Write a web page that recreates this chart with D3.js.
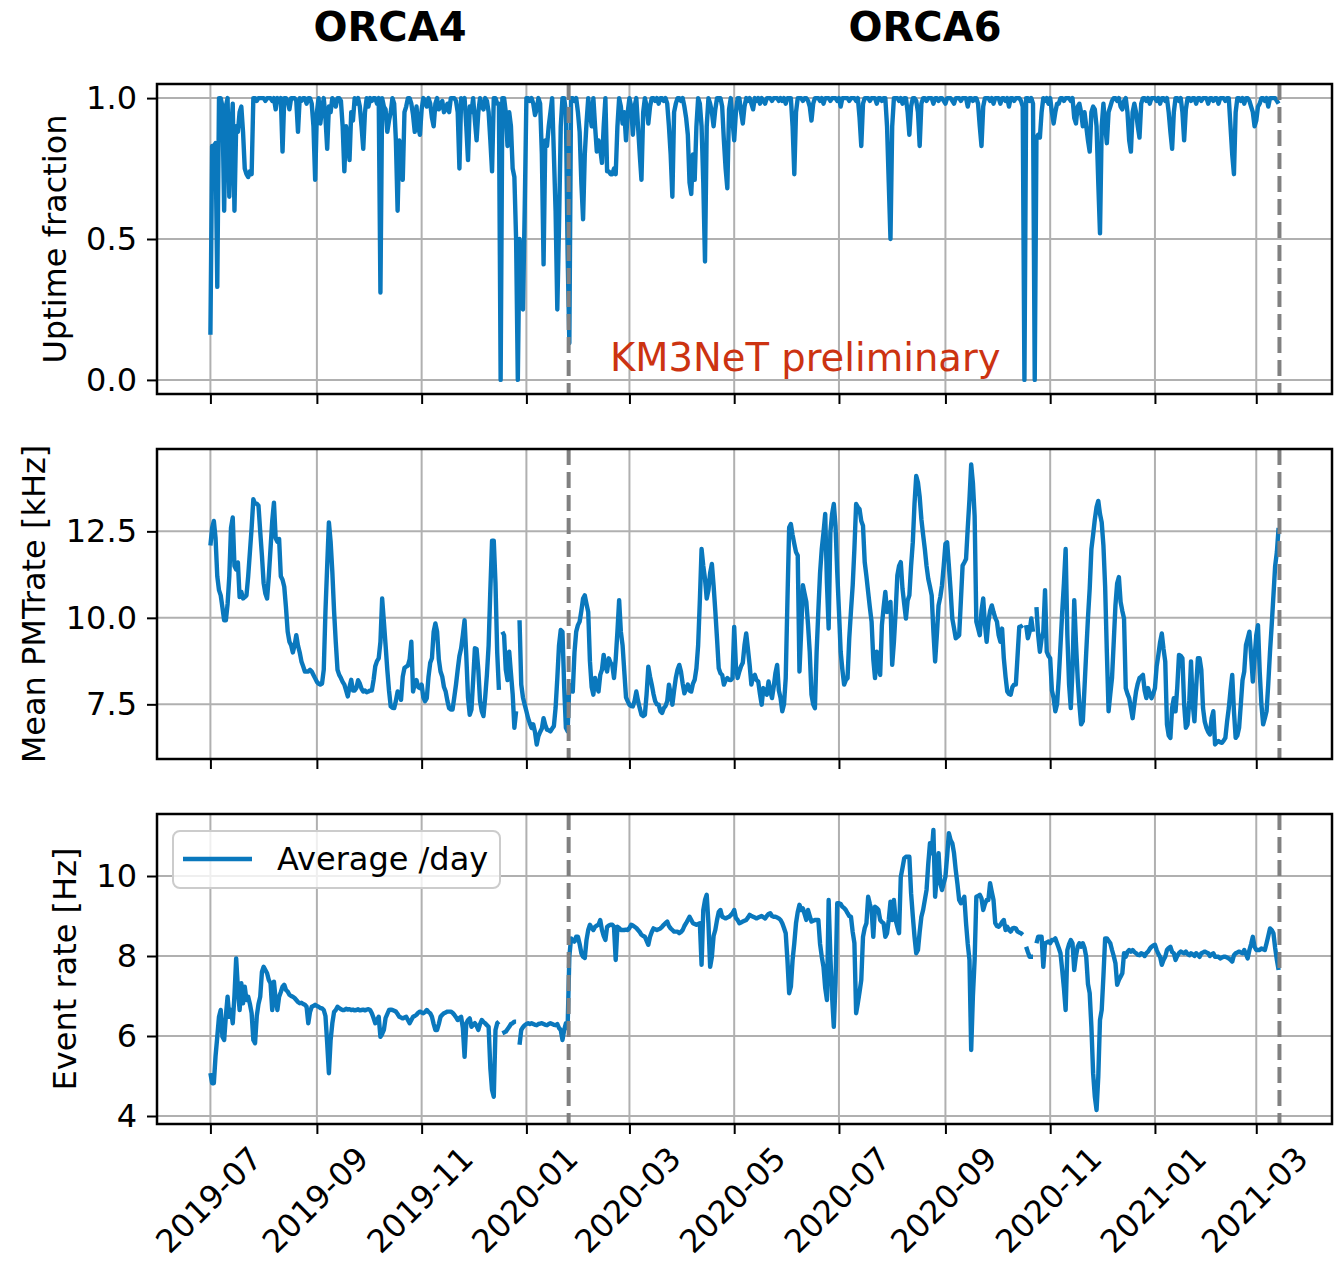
<!DOCTYPE html>
<html><head><meta charset="utf-8">
<script src="https://cdn.jsdelivr.net/npm/d3@7"></script>
<style>body{margin:0;background:#fff}svg{display:block}</style>
</head><body><svg id="chart" width="1340" height="1263"></svg>
<script>
// ---------- data (one value per day, starting 2019-07-01; null = no data) ----------
const startDay = "2019-07-01";
const detectorChanges = ["2020-01-25T14:24:00Z", "2021-03-14T12:00:00Z"];
const periodTitles = ["ORCA4", "ORCA6"];
const yLabels = ["Uptime fraction", "Mean PMTrate [kHz]", "Event rate [Hz]"];
const yTicksUptime = [0, 0.5, 1.0];
const yTicksPmt = [7.5, 10.0, 12.5];
const yTicksEvent = [4, 6, 8, 10];
const yRangeUptime = [-0.05, 1.05];
const yRangePmt = [5.92, 14.88];
const yRangeEvent = [3.8, 11.55];
const xTickFormat = "%Y-%m";
const legendLabel = "Average /day";
const watermark = "KM3NeT preliminary";

const uptime = [
.16,.83,.83,.84,.33,1,1,.97,.6,.97,
1,.65,.87,.98,.6,.9,.88,.95,.97,.88,
.75,.73,.72,.74,.73,1,1,.99,1,1,
1,1,.99,1,1,1,.99,1,.96,1,
.99,1,.81,1,1,.99,.96,1,1,1,
.99,.88,1,.99,1,1,.98,1,1,.98,
.9,.71,.95,1,.91,.96,1,.93,.82,.97,
.95,1,.99,.97,1,1,.99,.9,.74,.9,
.85,.78,.95,.92,1,.98,1,.97,.9,.82,
.95,1,.97,1,.99,1,1,.98,1,.31,
1,.97,.96,.88,.92,.95,1,.98,.85,.6,
.85,.75,.71,.95,.97,1,1,.98,.94,.88,
.97,.9,.87,.96,1,.99,.97,1,.98,.93,
.9,.98,1,.96,.97,.99,.95,.96,.98,.95,
1,1,1,.99,.95,.75,1,.98,1,.9,
.78,.97,.95,1,.92,.85,.95,1,.97,.96,
1,.99,.95,.85,.74,1,1,.98,.98,0,
1,1,.95,.83,.95,.9,.75,.72,.5,0,
.5,.45,.25,.6,1,1,.99,1,.98,.94,
.96,1,.98,.8,.41,.85,.83,.9,.95,1,
.8,.6,.25,.55,.9,1,1,.95,.45,.13,
1,1,.99,1,.95,.88,.7,.57,.8,.91,
1,.95,.9,1,.9,.81,.85,.82,.77,.9,
1,.74,.74,.73,.73,.75,.73,.9,1,.97,
.91,.95,.85,.95,1,.97,.87,.97,1,.9,
.8,.71,.95,1,.97,.91,.97,1,1,.99,
1,.98,1,1,.99,1,.98,.9,.8,.65,
.95,.98,1,1,.99,1,.97,.93,.87,.7,
.66,.8,.71,.9,1,.98,.9,.7,.42,.9,
1,.98,.95,.9,.96,1,1,1,.97,.85,
.75,.68,.96,1,.92,.85,.95,1,1,.95,
.91,.97,1,.99,1,.98,.96,1,.99,1,
.98,1,.99,.98,1,1,1,.99,1,1,
1,.99,1,.99,1,.98,1,1,1,.9,
.73,.95,1,1,1,.99,1,1,.99,.97,
.92,.98,1,1,1,.99,1,.98,1,1,
1,.99,1,1,1,.99,1,.97,1,1,
1,1,.99,1,1,1,.99,1,.93,.83,
.98,1,1,1,.99,1,1,1,.98,1,
1,.99,1,1,.9,.7,.5,.9,1,1,
1,.99,1,.98,1,1,.95,.87,.97,1,
1,.99,.95,.83,.98,1,1,.99,1,1,
1,.98,1,1,.99,1,1,.99,.98,1,
1,1,.99,.98,1,1,1,.99,1,1,
1,.97,1,1,.99,1,1,.98,.9,.83,
.97,1,1,1,.99,1,.98,1,1,1,
.98,1,1,.99,1,.97,1,1,.99,1,
1,1,.99,.97,0,1,1,.99,1,.98,
0,.86,.87,.86,.95,1,.99,1,.98,1,
.95,.91,.95,.98,.98,1,1,.99,1,1,
1,.99,1,.93,.91,.97,.98,.95,.9,.95,
.9,.85,.81,.95,.97,.96,.9,.7,.52,.9,
.98,.9,.84,.95,.97,.99,1,1,.99,1,
.97,.96,.99,1,.95,.85,.81,.95,.98,.95,
.9,.86,.98,1,1,.99,1,.98,1,1,
1,.99,1,.98,1,1,.99,1,.95,.88,
.82,.95,1,1,.99,1,.95,.85,.96,1,
1,.99,1,1,.98,1,1,.99,1,1,
1,.98,1,1,.99,1,1,.98,1,1,
1,.99,1,1,.9,.8,.73,.95,1,1,
.99,1,.98,1,1,.99,.97,.95,.9,.92,
.97,.98,1,1,.99,1,.97,1,1,1,
1,.99,.98
];

const pmtRate = [
12.09,12.6,12.8,12.3,11.2,10.8,10.65,10.3,9.93,9.93,
10.4,11.2,12.6,12.9,11.5,11.4,11.6,10.6,10.75,10.56,
10.6,10.65,11.2,11.9,12.6,13.43,13.3,13.3,13.24,12.5,
11.8,11.0,10.7,10.56,11.2,12.0,12.8,13.33,12.3,12.2,
12.28,11.2,11.1,10.9,10.3,9.6,9.31,9.21,9.0,9.2,
9.5,9.2,9.0,8.74,8.6,8.45,8.45,8.45,8.5,8.45,
8.35,8.25,8.15,8.1,8.07,8.1,8.5,10.2,11.5,12.76,
12.2,11.32,10.2,9.3,8.5,8.35,8.26,8.15,8.07,7.9,
7.73,8.0,8.21,7.9,7.9,7.97,8.2,8.1,7.95,7.87,
7.9,7.85,7.87,7.9,7.9,8.2,8.6,8.75,8.83,9.3,
10.56,9.9,9.21,8.5,7.9,7.44,7.4,7.39,7.6,7.87,
7.8,7.63,8.3,8.55,8.59,8.62,8.8,9.31,7.87,8.1,
8.2,8.0,7.97,8.07,7.7,7.59,7.68,8.3,8.7,8.83,
9.6,9.84,9.6,8.8,8.45,8.3,8.0,7.87,7.6,7.39,
7.35,7.35,7.7,8.07,8.5,8.9,9.12,9.5,9.93,8.9,
7.7,7.2,7.35,8.2,9.12,9.1,8.5,7.6,7.3,7.16,
7.7,8.35,9.2,10.8,12.23,12.23,11.0,9.0,7.92,null,
9.6,9.5,8.5,8.2,9.02,8.4,7.8,6.82,7.3,null,
9.93,8.07,7.7,7.49,7.3,7.1,6.95,6.82,6.92,6.7,
6.34,6.58,6.7,6.8,7.1,6.9,6.77,6.75,6.72,6.8,
6.87,7.4,8.26,9.21,9.65,9.6,8.0,6.82,6.72,8.07,
7.9,7.87,9.0,9.6,9.79,9.89,10.2,10.56,10.65,10.4,
10.17,8.74,8.0,7.78,8.26,8.0,7.87,8.35,8.5,8.93,
8.6,8.45,8.83,8.7,8.64,8.26,8.8,9.6,10.51,9.6,
9.21,8.45,7.7,7.59,7.49,7.45,7.44,7.6,7.87,7.6,
7.39,7.2,7.16,7.2,7.8,8.59,8.3,8.07,7.8,7.59,
7.5,7.49,7.3,7.25,7.39,7.45,7.59,8.07,7.8,7.49,
7.9,8.26,8.5,8.64,8.45,8.1,7.82,7.95,8.07,7.9,
7.87,8.1,8.21,8.54,9.2,10.5,11.99,11.5,11.13,10.56,
10.8,11.3,11.56,10.94,10.2,9.4,8.54,8.4,8.35,8.07,
8.2,8.26,8.21,8.2,8.26,9.74,8.6,8.26,8.45,8.6,
8.7,9.21,9.55,9.1,8.64,8.07,8.3,8.35,8.2,8.16,
7.8,7.49,7.97,7.85,7.78,8.16,7.9,7.68,8.0,8.4,
8.64,7.9,7.68,7.3,7.5,8.26,10.5,12.61,12.71,12.4,
12.14,11.9,11.8,8.45,9.6,10.94,10.7,10.46,9.8,9.0,
7.78,7.5,7.39,9.02,10.2,11.3,12.0,12.47,13.0,11.0,
9.69,12.47,13.0,13.29,12.66,11.32,10.2,9.02,8.5,8.07,
8.2,8.26,9.41,10.2,10.94,12.0,13.29,13.2,13.14,12.8,
12.66,11.61,11.2,10.75,10.3,9.89,8.8,8.26,9.02,8.6,
8.35,9.79,10.3,10.75,10.17,10.3,10.46,8.64,9.3,10.17,
11.23,11.5,11.61,10.84,10.4,9.98,10.5,10.65,11.5,12.18,
13.3,14.1,13.91,13.5,12.85,12.4,11.99,11.5,11.13,10.9,
10.65,9.6,8.74,9.5,10.36,10.6,10.94,11.5,12.14,12.18,
11.51,10.8,9.98,9.7,9.41,9.45,9.5,10.5,11.51,11.6,
11.7,12.6,13.43,14.43,13.9,12.95,9.89,9.7,9.5,10.2,
10.56,9.8,9.31,9.89,10.2,10.36,10.17,10.0,9.89,9.5,
9.31,9.69,8.83,8.3,7.87,7.8,7.78,8.0,8.07,8.07,
8.9,9.74,9.75,9.79,null,9.79,9.41,9.6,9.98,9.6,
null,10.31,9.5,9.02,9.4,9.6,10.8,9.02,8.9,8.83,
7.9,7.68,7.3,7.5,8.26,9.2,10.17,11.0,11.99,9.5,
8.07,7.39,8.5,10.51,9.3,8.26,7.5,6.92,7.01,8.0,
9.02,10.0,10.84,11.99,12.4,12.85,13.2,13.38,13.0,12.76,
12.09,10.9,9.0,7.3,7.8,8.26,9.3,10.36,11.0,11.18,
10.46,10.2,9.98,7.97,7.8,7.68,7.4,7.1,7.5,7.87,
8.1,8.26,8.3,8.35,7.9,7.68,7.97,7.8,7.68,7.8,
7.97,8.6,8.93,9.3,9.55,9.1,8.74,6.92,6.6,6.53,
7.4,7.68,7.3,8.0,8.93,8.9,8.83,7.5,6.82,6.92,
7.6,8.74,7.5,7.01,8.0,8.83,8.83,8.5,7.39,7.0,
6.82,6.7,6.63,7.1,7.3,6.34,6.4,6.44,6.4,6.39,
6.45,6.53,7.0,7.39,7.9,8.35,7.3,6.53,6.6,6.82,
7.5,8.2,8.45,9.21,9.4,9.6,8.9,8.16,8.83,9.5,
9.79,8.45,7.5,6.92,7.1,7.3,8.1,9.02,9.8,10.65,
11.5,11.9,12.6
];

const eventRate = [
5.07,4.82,4.82,5.5,5.98,6.48,6.65,5.98,5.9,6.5,
6.98,6.48,6.65,6.32,7.0,7.94,7.2,6.65,7.32,6.82,
7.23,6.9,6.98,6.8,6.57,5.9,5.82,6.5,6.8,6.98,
7.6,7.73,7.65,7.57,7.4,7.32,6.65,7.36,6.9,6.65,
6.98,7.1,7.23,7.28,7.15,7.11,7.03,7.0,6.98,6.95,
6.9,6.85,6.82,6.83,6.8,6.78,6.73,6.32,6.6,6.73,
6.75,6.78,6.75,6.73,6.7,6.69,6.65,6.5,5.82,5.07,
5.9,6.32,6.6,6.65,6.73,6.7,6.67,6.65,6.65,6.68,
6.66,6.67,6.65,6.66,6.64,6.65,6.67,6.64,6.65,6.66,
6.64,6.66,6.67,6.65,6.57,6.45,6.32,6.4,6.48,5.98,
6.05,6.15,6.45,6.55,6.65,6.66,6.65,6.63,6.61,6.55,
6.48,6.46,6.44,6.46,6.48,6.4,6.32,6.4,6.48,6.5,
6.53,6.58,6.61,6.59,6.57,6.6,6.65,6.6,6.57,6.48,
6.3,6.15,6.15,6.3,6.48,6.53,6.57,6.59,6.61,6.61,
6.61,6.58,6.53,6.47,6.4,6.45,6.48,6.2,5.48,6.32,
6.4,6.44,6.23,6.28,6.32,6.25,6.15,6.3,6.4,6.35,
6.32,6.27,6.23,5.2,4.65,4.48,6.15,6.32,6.36,null,
6.07,6.09,6.11,6.17,6.23,6.3,6.32,6.36,6.36,null,
5.78,6.15,6.22,6.27,6.3,6.32,6.3,6.32,6.3,6.28,
6.27,6.3,6.31,6.32,6.3,6.28,6.27,6.3,6.32,6.3,
6.28,6.27,6.3,6.2,6.15,5.9,6.15,6.32,6.2,7.98,
8.44,8.4,8.36,8.48,8.48,8.3,8.07,7.98,7.95,8.4,
8.65,8.78,8.7,8.65,8.73,8.76,8.78,8.9,8.65,8.5,
8.4,8.73,8.76,8.78,8.78,8.73,7.9,8.73,8.7,8.65,
8.65,8.65,8.66,8.65,8.7,8.78,8.76,8.73,8.7,8.65,
8.6,8.53,8.5,8.48,8.38,8.28,8.48,8.6,8.69,8.67,
8.65,8.67,8.69,8.73,8.78,8.82,8.86,8.75,8.69,8.65,
8.61,8.61,8.61,8.57,8.6,8.65,8.75,8.82,8.9,8.98,
8.9,8.82,8.8,8.78,8.8,8.82,7.78,9.15,9.4,9.53,
8.82,7.73,7.98,8.5,8.65,8.9,9.1,9.15,8.98,8.96,
8.94,8.96,8.98,9.02,9.07,9.15,8.95,8.9,8.82,8.84,
8.86,8.88,8.9,8.96,9.03,9.0,8.98,8.96,8.94,8.96,
8.98,9.0,8.97,8.94,9.0,9.05,9.07,9.0,8.98,8.98,
8.96,8.94,8.9,8.82,8.7,8.57,7.9,7.07,7.23,7.9,
8.32,8.82,9.1,9.28,9.15,9.19,9.05,8.9,9.15,9.0,
8.86,8.88,8.9,8.9,8.9,8.3,7.98,7.73,7.2,6.9,
9.4,8.0,6.98,6.23,7.32,9.32,9.32,9.3,9.23,9.2,
9.15,9.07,9.0,8.98,8.6,8.32,6.57,6.82,7.1,7.4,
8.48,8.7,8.82,9.48,9.3,9.15,8.48,9.23,9.2,9.15,
8.9,8.85,8.82,8.48,8.57,8.9,9.36,8.9,9.4,8.9,
8.73,8.57,9.98,10.2,10.44,10.48,10.48,10.48,9.57,9.0,
8.48,8.07,8.15,8.6,8.98,9.15,9.4,9.65,10.3,10.82,
10.57,11.15,9.48,10.0,10.57,9.82,9.65,9.82,9.98,10.5,
11.07,10.9,10.82,10.57,10.15,9.8,9.4,9.32,9.4,9.48,
8.82,8.3,7.9,5.65,7.0,7.9,9.48,9.5,9.53,9.44,
9.15,9.3,9.4,9.4,9.82,9.6,9.4,8.82,8.75,8.73,
8.78,8.85,8.9,8.65,8.73,8.65,8.61,8.69,8.7,8.69,
8.61,8.59,8.57,8.53,null,8.23,8.1,7.98,7.98,7.98,
null,8.32,8.48,8.48,8.48,7.73,8.32,8.34,8.36,8.32,
8.4,8.4,8.44,8.32,8.2,8.07,7.65,7.2,6.65,8.15,
8.3,8.4,8.32,7.65,8.0,8.23,8.32,8.23,8.32,8.2,
7.98,7.3,7.07,6.23,5.07,4.48,4.15,4.98,6.4,6.65,
7.5,8.44,8.44,8.38,8.32,8.15,8.0,7.82,7.28,7.4,
7.48,7.57,8.07,7.98,8.1,8.15,8.11,8.15,8.1,8.07,
8.03,8.02,8.07,8.05,8.0,8.07,8.11,8.18,8.23,8.26,
8.28,8.15,8.05,7.98,7.78,7.9,7.98,8.15,8.2,8.23,
8.1,8.07,7.9,8.0,8.07,8.11,8.09,8.07,8.11,8.05,
8.02,8.07,8.04,8.0,8.07,8.03,7.98,8.07,8.09,8.11,
8.09,8.07,8.0,8.04,8.07,7.98,7.98,7.98,7.94,7.96,
7.98,7.98,7.96,7.94,7.9,7.86,8.02,8.07,8.09,8.11,
8.09,8.07,8.15,8.05,7.94,8.15,8.3,8.48,8.23,8.15,
8.15,8.15,8.19,8.17,8.15,8.32,8.5,8.69,8.65,8.57,
8.2,7.9,7.65
];

// ---------- drawing ----------
const FONT = "'DejaVu Sans', sans-serif";
const BLUE = "#0a78bd";
const svg = d3.select("#chart");
svg.append("rect").attr("width", 1340).attr("height", 1263).attr("fill", "#fff");

const start = new Date(startDay + "T00:00:00Z");
const dates = uptime.map((_, i) => d3.utcDay.offset(start, i));
const DAY = 864e5;
const x = d3.scaleUtc()
  .domain([new Date(+start - 31.1 * DAY), new Date(+start + 653.1 * DAY)])
  .range([157, 1332]);
const xTicks = x.ticks(d3.utcMonth.every(2));
const changeDates = detectorChanges.map(s => new Date(s));

const H = 310;
const panels = [
  { top: 84,  values: uptime,    domain: yRangeUptime, ticks: yTicksUptime, fmt: d3.format(".1f"), label: yLabels[0] },
  { top: 449, values: pmtRate,   domain: yRangePmt,    ticks: yTicksPmt,    fmt: d3.format(".1f"), label: yLabels[1] },
  { top: 814, values: eventRate, domain: yRangeEvent,  ticks: yTicksEvent,  fmt: d3.format("d"),   label: yLabels[2] }
];

panels.forEach((p, pi) => {
  const g = svg.append("g");
  const y = d3.scaleLinear().domain(p.domain).range([p.top + H, p.top]);
  const [x0, x1] = x.range();

  // grid
  g.append("g").selectAll("line").data(xTicks).join("line")
    .attr("x1", d => x(d)).attr("x2", d => x(d))
    .attr("y1", p.top).attr("y2", p.top + H)
    .attr("stroke", "#b0b0b0").attr("stroke-width", 2);
  g.append("g").selectAll("line").data(p.ticks).join("line")
    .attr("x1", x0).attr("x2", x1)
    .attr("y1", d => y(d)).attr("y2", d => y(d))
    .attr("stroke", "#b0b0b0").attr("stroke-width", 2);

  if (pi === 0) {
    g.append("text").text(watermark)
      .attr("x", 610).attr("y", 371)
      .attr("font-family", FONT).attr("font-size", 38.5).attr("fill", "#cc3311");
  }

  // data line
  const line = d3.line()
    .defined(d => d[1] !== null && d[1] !== undefined)
    .x(d => x(d[0])).y(d => y(d[1]));
  g.append("path")
    .datum(dates.map((d, i) => [d, p.values[i]]))
    .attr("d", line)
    .attr("fill", "none").attr("stroke", BLUE)
    .attr("stroke-width", 4.4).attr("stroke-linejoin", "round");

  // detector change markers
  g.append("g").selectAll("line").data(changeDates).join("line")
    .attr("x1", d => x(d)).attr("x2", d => x(d))
    .attr("y1", p.top).attr("y2", p.top + H)
    .attr("stroke", "#808080").attr("stroke-width", 4)
    .attr("stroke-dasharray", "16,7");

  // frame
  g.append("rect").attr("x", x0).attr("y", p.top)
    .attr("width", x1 - x0).attr("height", H)
    .attr("fill", "none").attr("stroke", "#000").attr("stroke-width", 2.5);

  // y axis
  const ya = g.append("g").attr("transform", `translate(${x0},0)`)
    .call(d3.axisLeft(y).tickValues(p.ticks).tickFormat(p.fmt).tickSize(10).tickPadding(10))
    .attr("font-size", 32).attr("font-family", FONT);
  ya.select(".domain").remove();
  ya.selectAll("line").attr("stroke", "#000").attr("stroke-width", 2);
  ya.selectAll("text").attr("fill", "#000");

  // x axis
  const xa = g.append("g").attr("transform", `translate(0,${p.top + H})`)
    .call(d3.axisBottom(x).tickValues(xTicks)
      .tickFormat(pi === 2 ? d3.utcFormat(xTickFormat) : () => "")
      .tickSize(10).tickPadding(10))
    .attr("font-size", 32).attr("font-family", FONT);
  xa.select(".domain").remove();
  xa.selectAll("line").attr("stroke", "#000").attr("stroke-width", 2);
  xa.selectAll("text").attr("fill", "#000")
    .attr("y", null).attr("dy", null)
    .attr("text-anchor", "middle").attr("dominant-baseline", "central")
    .attr("transform", "translate(-2,76) rotate(-45)");

  // y label
  const bb = ya.node().getBBox();
  const labelX = x0 + bb.x - 13 - 7.5;
  g.append("text").text(p.label)
    .attr("transform", `translate(${labelX},${p.top + H / 2}) rotate(-90)`)
    .attr("text-anchor", "middle")
    .attr("font-family", FONT).attr("font-size", 32).attr("fill", "#000");

  // legend (bottom panel)
  if (pi === 2) {
    const lg = g.append("g");
    lg.append("rect").attr("x", 173).attr("y", 831).attr("width", 327).attr("height", 57)
      .attr("rx", 7).attr("fill", "#fff").attr("fill-opacity", 0.8)
      .attr("stroke", "#cccccc").attr("stroke-width", 2);
    lg.append("line").attr("x1", 183).attr("x2", 252).attr("y1", 859).attr("y2", 859)
      .attr("stroke", BLUE).attr("stroke-width", 4.4);
    lg.append("text").text(legendLabel).attr("x", 277).attr("y", 859)
      .attr("dominant-baseline", "central")
      .attr("font-family", FONT).attr("font-size", 32).attr("fill", "#000");
  }
});

// period titles
const titleX = [390, 925];
svg.selectAll("text.title").data(periodTitles).join("text")
  .attr("class", "title")
  .attr("x", (d, i) => titleX[i]).attr("y", 41)
  .attr("text-anchor", "middle")
  .attr("font-family", FONT).attr("font-weight", "bold").attr("font-size", 40)
  .attr("fill", "#000")
  .text(d => d);
</script>
</body></html>
